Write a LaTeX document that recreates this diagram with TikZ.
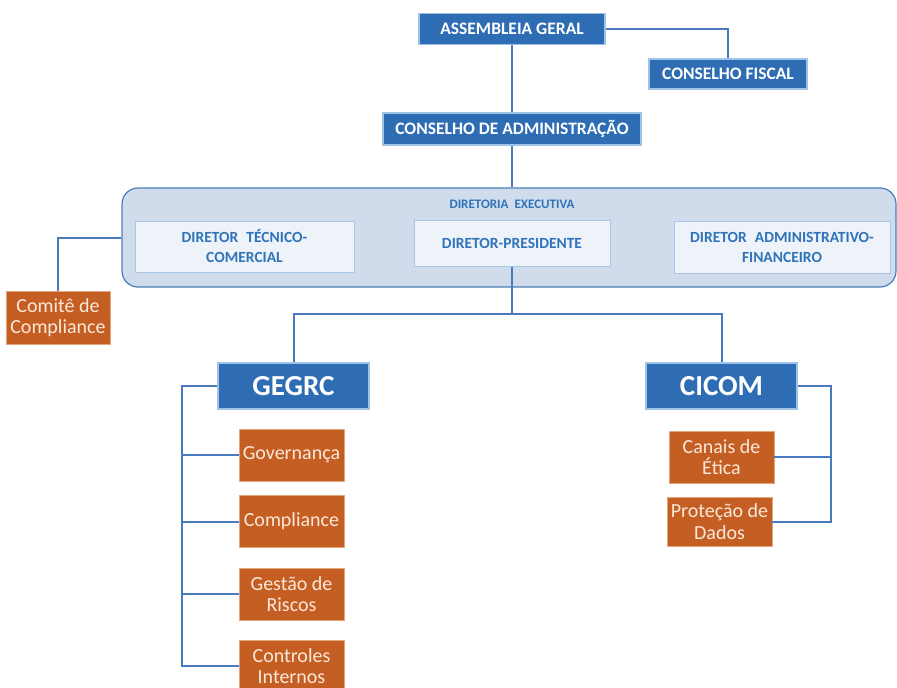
\documentclass[tikz,border=0pt]{standalone}
\usepackage{fontspec}
\setmainfont{Carlito}
\definecolor{blueF}{HTML}{2E6DB4}
\definecolor{blueL}{HTML}{9DC3E6}
\definecolor{lineC}{HTML}{4A7BC0}
\definecolor{execF}{HTML}{D0DCEC}
\definecolor{execL}{HTML}{4A7EBB}
\definecolor{dirF}{HTML}{EEF3FA}
\definecolor{dirL}{HTML}{A9C6E8}
\definecolor{dirT}{HTML}{2F73B8}
\definecolor{orF}{HTML}{C55E22}
\definecolor{orL}{HTML}{E3A67F}
\definecolor{orT}{HTML}{FAE8DA}
\tikzset{
  bluebox/.style={fill=blueF,draw=blueL,line width=1.5pt,text=white,inner sep=0pt,
    align=center,font=\bfseries\fontsize{17.5}{20}\selectfont},
  bigbox/.style={bluebox,font=\bfseries\fontsize{29}{32}\selectfont},
  dirbox/.style={fill=dirF,draw=dirL,line width=1pt,text=dirT,inner sep=0pt,
    align=center,font=\bfseries\fontsize{15.5}{20}\selectfont},
  orbox/.style={fill=orF,draw=orL,line width=.8pt,text=orT,inner sep=0pt,
    align=center,font=\fontsize{20}{21.5}\selectfont},
  conn/.style={draw=lineC,line width=2pt},
}
\begin{document}
\begin{tikzpicture}[x=1pt,y=-1pt]
    \useasboundingbox (0,0) rectangle (897,688);
    % diretoria executiva
    \node[fill=execF,draw=execL,line width=1.2pt,rounded corners=16pt,
      minimum width=774,minimum height=99] (de) at (509,237.5) {};
    \node[text=dirT,font=\bfseries\fontsize{13}{14}\selectfont] (delab) at (512,204) {DIRETORIA\hspace{.25em} EXECUTIVA};
    \node[dirbox,minimum width=219,minimum height=51] (dtc) at (244.5,246.5) {DIRETOR\hspace{.3em} TÉCNICO-\\COMERCIAL};
    \node[dirbox,minimum width=196,minimum height=46] (dp) at (512,243) {DIRETOR-PRESIDENTE};
    \node[dirbox,minimum width=216,minimum height=52] (daf) at (782,247) {DIRETOR\hspace{.3em} ADMINISTRATIVO-\\FINANCEIRO};
    %===========================================
    \node[bluebox,minimum width=186,minimum height=31] (ag) at (512,29) {ASSEMBLEIA GERAL};
    \node[bluebox,minimum width=158,minimum height=30] (cf) at (728,74) {CONSELHO FISCAL};
    \node[bluebox,minimum width=258,minimum height=32] (ca) at (512,129) {CONSELHO DE ADMINISTRAÇÃO};
    \node[orbox,minimum width=104,minimum height=53] (comite) at (58,317.5) {Comitê de\\Compliance};
    \node[bigbox,minimum width=151,minimum height=46] (gegrc) at (293.5,386) {GEGRC};
    \node[bigbox,minimum width=151,minimum height=46] (cicom) at (721.5,386) {CICOM};
    \foreach \n/\y/\t in {gov/455/Governança,comp/521.5/Compliance,risc/594/Gestão de\\Riscos,ctrl/666/Controles\\Internos}
      \node[orbox,minimum width=105,minimum height=52] (\n) at (291.5,\y) {\t};
    \node[orbox,minimum width=105,minimum height=52] (ce) at (721.5,457) {Canais de\\Ética};
    \node[orbox,minimum width=105,minimum height=49] (pd) at (719.5,521.5) {Proteção de\\Dados};
    %===========================================
    \coordinate (split) at (512,314);
    \coordinate (gbus) at (182,665);
    \coordinate (cbus) at (831,522);
    \draw[conn] (ag.east) -| (cf.north);
    \draw[conn] (ag.south) -- (ca.north);
    \draw[conn] (ca.south) -- (ca.south |- de.north);
    \draw[conn] (de.west) -| (comite.north);
    \draw[conn] (dp.south) -- (split);
    \draw[conn] (gegrc.north) |- (split) -| (cicom.north);
    \draw[conn] (gegrc.west) -| (gbus |- ctrl.west) -- (ctrl.west);
    \foreach \n in {gov,comp,risc} \draw[conn] (gbus |- \n.west) -- (\n.west);
    \draw[conn] (cicom.east) -| (cbus |- pd.east) -- (pd.east);
    \draw[conn] (cbus |- ce.east) -- (ce.east);
\end{tikzpicture}
\end{document}
